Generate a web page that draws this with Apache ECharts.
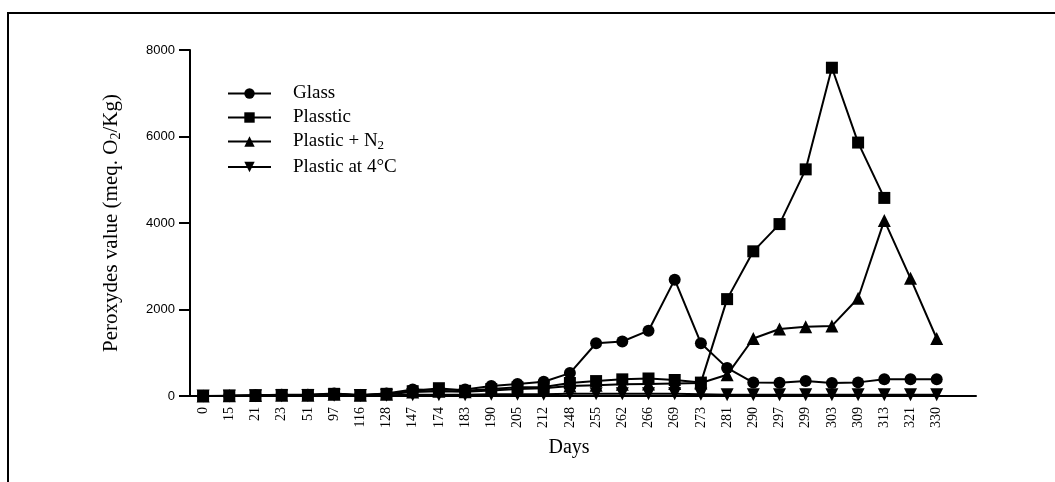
<!DOCTYPE html>
<html>
<head>
<meta charset="utf-8">
<script src="https://cdn.jsdelivr.net/npm/echarts@6/dist/echarts.min.js"></script>
<style>
html,body{margin:0;padding:0;background:#fff;}
#c{width:1055px;height:482px;}
</style>
</head>
<body>
<div id="c"></div>
<script>
var days = ['0','15','21','23','51','97','116','128','147','174','183','190','205','212','248','255','262','266','269','273','281','290','297','299','303','309','313','321','330'];
var seriesNames = ['Glass','Plasstic','Plastic + N2','Plastic at 4°C'];
var glass = [0,5,20,30,30,60,25,60,150,140,150,230,275,330,530,1220,1260,1510,2690,1220,650,310,305,345,300,315,385,385,385];
var plasstic = [0,5,15,25,25,50,20,50,110,180,120,160,200,210,300,345,385,405,370,310,2240,3345,3975,5240,7590,5860,4580,null,null];
var plasticN2 = [0,5,10,20,20,40,15,40,90,110,100,130,160,180,230,250,270,280,290,300,490,1330,1550,1600,1620,2260,4060,2720,1330];
var plastic4C = [0,0,5,5,10,20,10,20,30,30,30,40,40,40,50,50,50,50,50,40,30,30,30,30,30,30,30,30,30];
var yTicks = {min:0, max:8000, interval:2000};

var serif = "'Liberation Serif','Times New Roman',serif";
var sans = "'Liberation Sans',Arial,sans-serif";
var chart = echarts.init(document.getElementById('c'), null, {renderer:'canvas'});
var axisCats = days.concat(['']);
function mk(name, data, symbol, size, rot){
  return {name:name, type:'line', data:data, symbol:symbol, symbolSize:size, symbolRotate:rot||0,
    showAllSymbol:true, connectNulls:false,
    lineStyle:{color:'#000', width:2}, itemStyle:{color:'#000'}, animation:false};
}
chart.setOption({
  backgroundColor:'#fff',
  animation:false,
  graphic:[{type:'rect', shape:{x:8,y:13,width:1200,height:600}, style:{fill:'none', stroke:'#000', lineWidth:2}, silent:true, z:-1}],
  grid:{left:190, right:79, top:50, bottom:86},
  legend:{
    orient:'vertical', left:227, top:84, padding:0, itemWidth:43, itemHeight:13, itemGap:5,
    data:seriesNames,
    formatter:function(n){ return n==='Plastic + N2' ? '{t|Plastic + N}{s|2}' : '{t|'+n+'}'; },
    textStyle:{color:'#000', fontFamily:serif, fontSize:19, padding:[0,0,0,17],
      rich:{t:{fontFamily:serif, fontSize:19, color:'#000'}, s:{fontFamily:serif, fontSize:13, color:'#000', padding:[9,0,0,0]}}}
  },
  xAxis:{
    type:'category', data:axisCats, boundaryGap:true,
    name:'Days', nameLocation:'middle', nameGap:42,
    nameTextStyle:{fontFamily:serif, fontSize:20, color:'#000', padding:[0,28,0,0]},
    axisLine:{lineStyle:{color:'#000', width:2}},
    axisTick:{alignWithLabel:true, length:8, lineStyle:{color:'#000', width:2},
      interval:function(i){ return i < days.length; }},
    axisLabel:{interval:0, rotate:90, margin:11, fontFamily:serif, fontSize:14, color:'#000'},
    splitLine:{show:false}
  },
  yAxis:{
    type:'value', min:yTicks.min, max:yTicks.max, interval:yTicks.interval,
    name:'{t|Peroxydes value (meq. O}{s|2}{t|/Kg)}', nameLocation:'middle', nameGap:67, nameRotate:90,
    nameTextStyle:{color:'#000', rich:{t:{fontFamily:serif, fontSize:21, color:'#000'}, s:{fontFamily:serif, fontSize:14, color:'#000', padding:[10,0,0,0]}}},
    axisLine:{show:true, lineStyle:{color:'#000', width:2}},
    axisTick:{show:true, length:11, lineStyle:{color:'#000', width:2}},
    axisLabel:{margin:15, fontFamily:sans, fontSize:13, color:'#000', formatter:function(v){ return String(v); }},
    splitLine:{show:false}
  },
  series:[
    mk(seriesNames[0], glass, 'circle', 12),
    mk(seriesNames[1], plasstic, 'rect', 12),
    mk(seriesNames[2], plasticN2, 'triangle', 13),
    mk(seriesNames[3], plastic4C, 'triangle', 13, 180)
  ]
});
</script>
</body>
</html>
